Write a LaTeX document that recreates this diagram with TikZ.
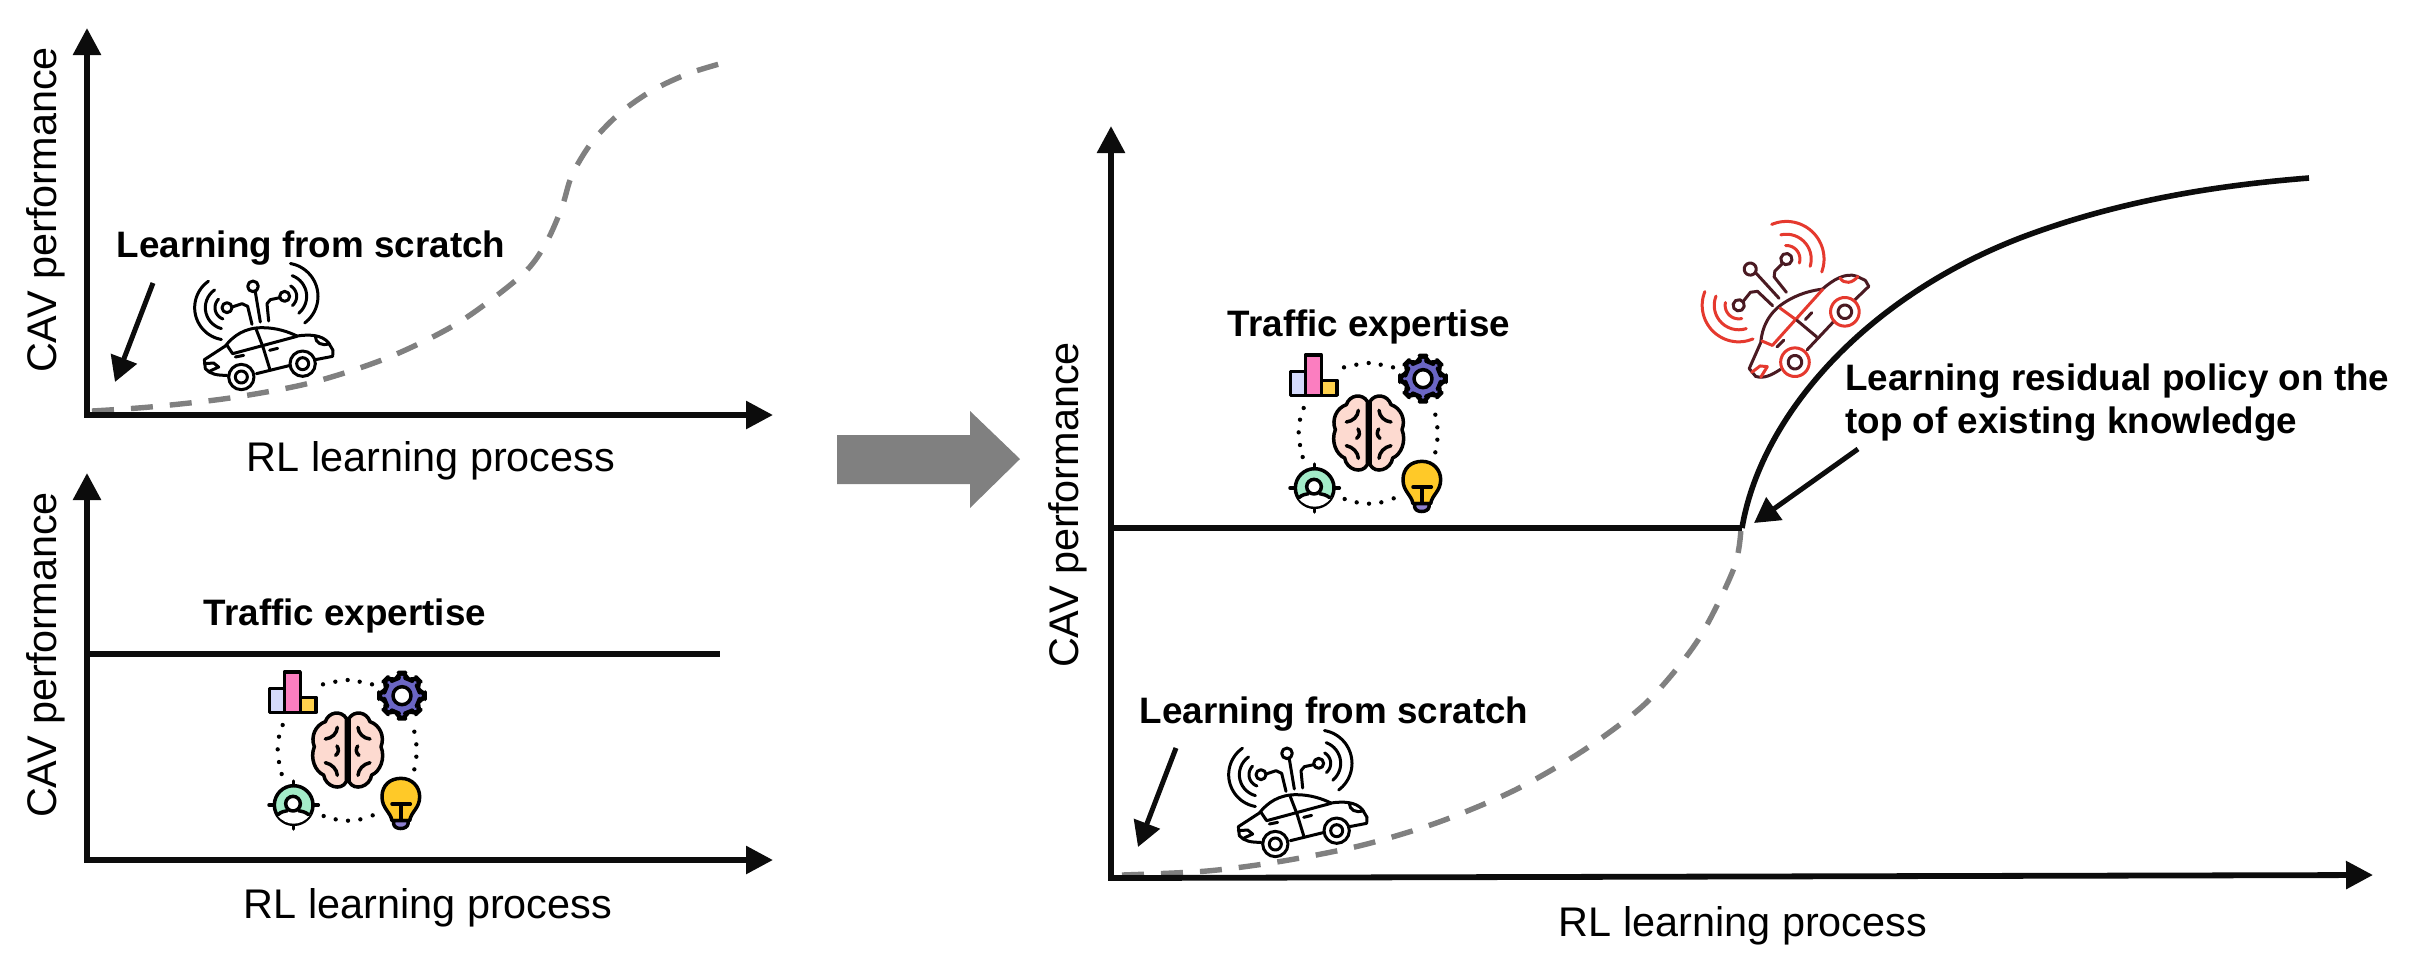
\documentclass[tikz,border=0pt]{standalone}
\usepackage{fontspec}
\setmainfont{Liberation Sans}
\usetikzlibrary{arrows.meta}
\definecolor{dashgray}{HTML}{808080}
\definecolor{bigarrow}{HTML}{808080}
\definecolor{caxis}{HTML}{0C0C0C}
\definecolor{carred}{HTML}{E5392E}
\definecolor{cardark}{HTML}{4A1A22}
\tikzset{
 axisline/.style={line width=2.9pt,color=caxis,shorten <=-1.45pt,-{Triangle[length=13.5pt,width=13.5pt]}},
 noteline/.style={line width=2.5pt,color=caxis,-{Triangle[length=12.5pt,width=13.5pt]}},
 curve/.style={line width=2.8pt,color=caxis},
 dashcurve/.style={line width=2.7pt,color=dashgray,dash pattern=on 11pt off 8.5pt},
 axlabel/.style={font=\fontsize{20.7}{24}\selectfont,inner sep=0pt,text=black},
 notelabel/.style={font=\fontsize{18.4}{22}\selectfont\bfseries,inner sep=0pt,text=black},
 ic/.style={line width=1.5pt,line cap=round,line join=round},
 ik/.style={line width=1.75pt,line cap=round,line join=round,draw=black},
}
% car icon, local coordinates: reference zoom pixels about the car centre
\newcommand{\waveArc}[6]{\draw[ic,#6] plot[smooth,domain=#4:#5,samples=16] ({#1+#3*cos(\x)},{#2+#3*sin(\x)});}
\newcommand{\caricon}[6]{% x,y,scale,rot,dark,light
\begin{scope}[shift={(#1,#2)},scale=#3/3,rotate=#4,shift={(-800,-380)}]
 \waveArc{680}{322}{97}{100}{235}{#6}
 \waveArc{680}{322}{65}{105}{235}{#6}
 \waveArc{680}{322}{36}{110}{225}{#6}
 \waveArc{853}{288}{100}{-80}{53}{#6}
 \waveArc{853}{288}{66}{-70}{50}{#6}
 \waveArc{853}{288}{36}{-60}{50}{#6}
 \draw[ic,#5] (680,322) circle[radius=15];
 \draw[ic,#5] (758,258) circle[radius=16];
 \draw[ic,#5] (853,288) circle[radius=15];
 \draw[ic,#5] (695,320)--(725,310)--(742,318)--(755,372);
 \draw[ic,#5] (765,275)--(780,365);
 \draw[ic,#5] (838,292)--(810,298)--(800,310)--(805,362);
 \draw[ic,#5] (680,525) .. controls (650,525) and (630,522) .. (615,505) -- (612,478) -- (675,437)
   .. controls (700,405) and (735,382) .. (785,382) .. controls (830,382) and (865,395) .. (890,407)
   .. controls (925,402) and (965,402) .. (985,428) -- (998,450) -- (997,468) -- (945,478);
 \draw[ic,#5] (870,495)--(768,520);
 \draw[ic,#6] (680,435)--(697,460)--(890,408);
 \draw[ic,#6] (768,388)--(788,440);
 \draw[ic,#5] (788,440)--(808,505);
 \draw[ic,#5] (705,470)--(730,465) (808,450)--(832,444);
 \draw[ic,#6] (612,490)--(640,488)--(655,500)--(625,514);
 \draw[ic,#6] (945,408) .. controls (945,428) and (965,438) .. (987,430);
 \foreach \cx/\cy in {723/530,907/490}{
  \draw[ic,#6] (\cx,\cy) circle[radius=38];
  \draw[ic,#5] (\cx,\cy) circle[radius=18];
 }
\end{scope}}
% expertise icon, local coordinates: reference zoom pixels about its centre
\newcommand{\expicon}[2]{%
\begin{scope}[shift={(#1,#2)},scale=1/3,shift={(-320,-300)}]
 \foreach \dx/\dy in {248/103,285/95,322/90,358/95,395/103,127/225,116/260,112/298,116/336,124/372,522/245,528/283,528/320,522/358,250/498,286/508,323/512,360/508,397/496}
  \fill[black] (\dx,\dy) circle[radius=6.5];
 \draw[ik,fill=barA] (88,116) rectangle (132,187);
 \draw[ik,fill=barC] (180,142) rectangle (227,187);
 \draw[ik,fill=barB] (132,66) rectangle (180,187);
 % gear
 \draw[ik,fill=gearblue,rounded corners=3pt] plot[samples at={0,...,31},variable=\i]
   ({485+(mod(\i,4)<2?70:52)*cos(\i*11.25-5.6)},{137+(mod(\i,4)<2?70:52)*sin(\i*11.25-5.6)}) -- cycle;
 \draw[ik,fill=white] (485,137) circle[radius=27];
 % brain
 \draw[ik,fill=brainskin] (318,205) .. controls (302,180) and (265,185) .. (255,215) .. controls (225,225) and (210,260) .. (222,290)
   .. controls (208,325) and (225,365) .. (250,375) .. controls (255,410) and (302,425) .. (318,395) -- cycle;
 \draw[ik,fill=brainskin] (326,205) .. controls (342,180) and (379,185) .. (389,215) .. controls (419,225) and (434,260) .. (422,290)
   .. controls (436,325) and (419,365) .. (394,375) .. controls (389,410) and (342,425) .. (326,395) -- cycle;
 \draw[ik] (255,267) .. controls (275,265) and (290,250) .. (291,232);
 \draw[ik] (389,267) .. controls (369,265) and (354,250) .. (353,232);
 \draw[ik] (290,288) .. controls (296,298) and (296,308) .. (286,316);
 \draw[ik] (352,288) .. controls (346,298) and (346,308) .. (356,316);
 \draw[ik] (255,338) .. controls (275,342) and (290,358) .. (291,376);
 \draw[ik] (389,338) .. controls (369,342) and (354,358) .. (353,376);
 % person target
 \draw[ik,fill=mintgreen] (160,465) circle[radius=58];
 \draw[ik] (160,393)--(160,407) (160,523)--(160,537) (86,465)--(100,465) (220,465)--(234,465);
 \fill[white] (110,494) .. controls (120,482) and (145,480) .. (160,480) .. controls (175,480) and (200,482) .. (210,494) .. controls (195,515) and (175,521) .. (160,521) .. controls (145,521) and (125,515) .. (110,494) -- cycle;
 \draw[ik,fill=white] (158,461) circle[radius=22];
 \draw[ik] (113,494) .. controls (122,485) and (132,484) .. (141,482) (205,494) .. controls (194,485) and (184,484) .. (175,482);
 % bulb
 \draw[ik,fill=bulbgold] (455,512) .. controls (450,485) and (425,475) .. (425,440) .. controls (425,405) and (450,385) .. (482,385)
   .. controls (515,385) and (538,410) .. (538,440) .. controls (538,475) and (512,485) .. (508,512) -- cycle;
 \draw[ik,fill=bulbbase] (460,512) -- (460,522) .. controls (462,540) and (500,540) .. (503,522) -- (503,512) -- cycle;
 \draw[ik] (455,462)--(510,462) (482,462)--(482,510);
\end{scope}}
\definecolor{barA}{HTML}{D5DAFB}
\definecolor{barB}{HTML}{FB7EC0}
\definecolor{barC}{HTML}{FFD24D}
\definecolor{gearblue}{HTML}{6B66C4}
\definecolor{brainskin}{HTML}{FDDAD0}
\definecolor{mintgreen}{HTML}{A3ECC8}
\definecolor{bulbgold}{HTML}{FFC928}
\definecolor{bulbbase}{HTML}{8E80D0}
\begin{document}
\begin{tikzpicture}[x=0.5pt,y=-0.5pt]
\useasboundingbox[fill=white] (0,0) rectangle (2431,971);
% top-left chart
\coordinate (a0) at (87,415);
\coordinate (ay) at (87,28);
\coordinate (ax) at (773,415);
\draw[dashcurve] plot[smooth] coordinates {(92,411) (150,407) (230,398) (310,383) (387,358) (458,323) (522,275) (546,243) (562,207) (572,175) (592,142) (620,113) (653,90) (690,73) (730,61)};
\draw[axisline] (a0) -- (ay);
\draw[axisline] (a0) -- (ax);
\node[axlabel,rotate=90] (ayl) at (46,210) {CAV performance};
\node[axlabel] (axl) at (431,461) {RL learning process};
\node[notelabel] (an) at (311,248) {Learning from scratch};
\coordinate (ana) at (153,283);
\coordinate (anb) at (115,382);
\draw[noteline] (ana) -- (anb);
\caricon{267}{327}{1}{0}{black}{black}
% bottom-left chart
\coordinate (b0) at (87,860);
\coordinate (by) at (87,473);
\coordinate (bx) at (773,860);
\draw[axisline] (b0) -- (by);
\draw[axisline] (b0) -- (bx);
\node[axlabel,rotate=90] (byl) at (46,655) {CAV performance};
\node[axlabel] (bxl) at (428,908) {RL learning process};
\node[notelabel] (bn) at (345,616) {Traffic expertise};
\coordinate (bl0) at (87,654);
\coordinate (bl1) at (720,654);
\draw[curve] (bl0) -- (bl1);
\expicon{347}{750}
% big arrow
\fill[bigarrow] (837,435) -- (970,435) -- (970,411) -- (1020,459) -- (970,508) -- (970,484) -- (837,484) -- cycle;
% right chart
\coordinate (c0) at (1111,878);
\coordinate (cy) at (1111,126);
\coordinate (cx) at (2373,875);
\draw[dashcurve] plot[smooth] coordinates {(1122,875) (1207,871) (1283,861) (1363,845) (1439,822) (1515,790) (1584,750) (1647,702) (1698,640) (1734,568) (1741,528)};
\draw[axisline] (c0) -- (cy);
\draw[axisline] (c0) -- (cx);
\node[axlabel,rotate=90] (cyl) at (1068,505) {CAV performance};
\node[axlabel] (cxl) at (1743,926) {RL learning process};
\node[notelabel] (cn1) at (1369,327) {Traffic expertise};
\node[notelabel] (cn2) at (1334,714) {Learning from scratch};
\node[notelabel,anchor=west] (cn3) at (1845,381) {Learning residual policy on the};
\node[notelabel,anchor=west] (cn4) at (1845,424) {top of existing knowledge};
\coordinate (cl0) at (1111,528);
\coordinate (cl1) at (1742,528);
\draw[curve] (cl0) -- (cl1);
\draw[curve] (cl1) .. controls (1760,420) and (1860,300) .. (2020,238) .. controls (2120,200) and (2220,185) .. (2309,178);
\coordinate (cna) at (1176,748);
\coordinate (cnb) at (1138,847);
\draw[noteline] (cna) -- (cnb);
\coordinate (cnc) at (1858,449);
\coordinate (cnd) at (1754,523);
\draw[noteline] (cnc) -- (cnd);
\expicon{1368}{433}
\caricon{1301}{794}{1}{0}{black}{black}
\caricon{1788.5}{299}{1.13}{33}{cardark}{carred}
\end{tikzpicture}
\end{document}
